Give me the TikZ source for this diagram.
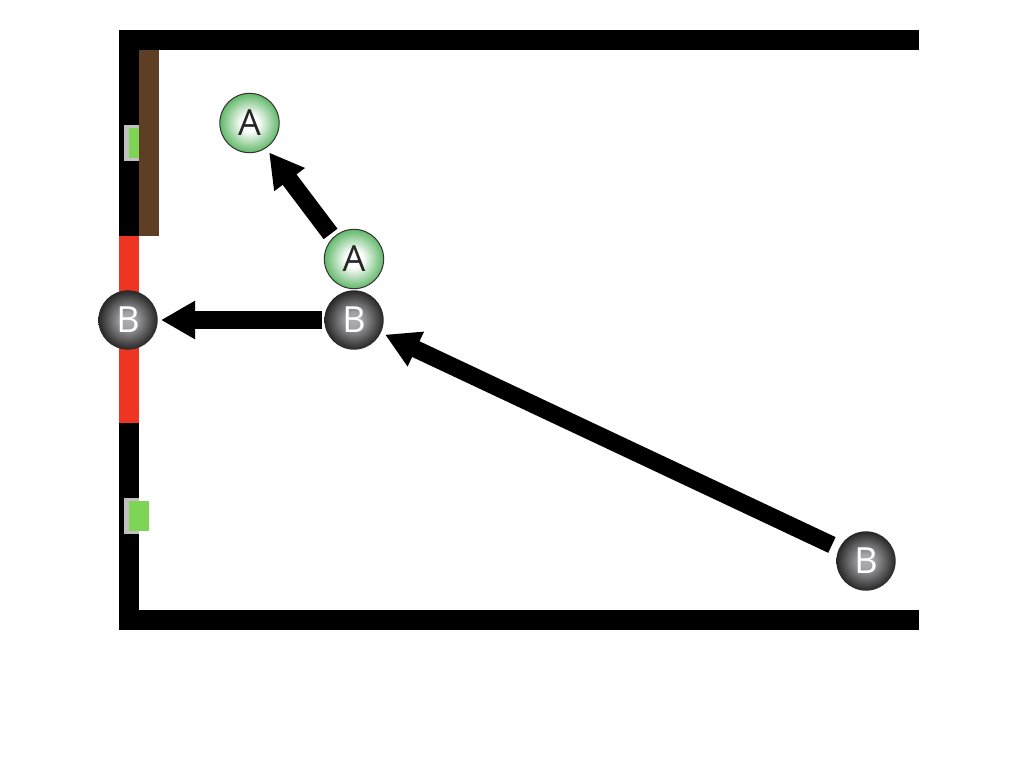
\documentclass[tikz,border=0pt]{standalone}
\usepackage{fontspec}
\setmainfont{Open Sans}
\usetikzlibrary{arrows.meta}
\definecolor{wallred}{HTML}{EE3524}
\definecolor{wallbrown}{HTML}{5E3F24}
\definecolor{doorgreen}{HTML}{7ED454}
\definecolor{doorgray}{HTML}{C0C0C0}
\definecolor{ballgreenout}{HTML}{62B86A}
\definecolor{ballgrayin}{HTML}{AEAEB2}
\definecolor{ballgraymid}{HTML}{A4A4A8}
\definecolor{ballgrayout}{HTML}{262626}
\pgfdeclareradialshading{ballgreen}{\pgfpoint{0bp}{0bp}}{color(0bp)=(white); color(7bp)=(white); color(25bp)=(ballgreenout); color(50bp)=(ballgreenout)}
\pgfdeclareradialshading{ballgray}{\pgfpoint{0bp}{0bp}}{color(0bp)=(ballgrayin); color(6bp)=(ballgraymid); color(25bp)=(ballgrayout); color(50bp)=(ballgrayout)}
\tikzset{
  ball/.style={circle, inner sep=0pt, outer sep=0pt, minimum size=44.5pt, font=\fontsize{27}{27}\selectfont},
  ballA/.style={ball, shading=ballgreen, draw=black!80, line width=0.75pt, text=black!85},
  ballB/.style={ball, shading=ballgray, text=white},
  move/.style={line width=13pt, -{Triangle[length=25.5pt, width=27pt]}},
}
\begin{document}
\begin{tikzpicture}[x=0.75pt, y=-0.75pt]
  \useasboundingbox (0,0) rectangle (1024,768);
  % walls
  \fill[black] (119,30) rectangle (919,50);
  \fill[black] (119,30) rectangle (139,630);
  \fill[black] (119,610) rectangle (919,630);
  \fill[wallred] (119,236) rectangle (139,423);
  \fill[wallbrown] (139,50) rectangle (159,236);
  % doors
  \fill[doorgray] (124,125) rectangle (139,161);
  \fill[doorgreen] (129,128) rectangle (139,158);
  \fill[doorgray] (124,498) rectangle (139,534);
  \fill[doorgreen] (129,501) rectangle (149,531);
  % agents
  \node[ballA] (A1) at (249.5,123) {A};
  \node[ballA] (A2) at (354,259) {A};
  \node[ballB] (B1) at (128,320) {B};
  \node[ballB] (B2) at (354,320) {B};
  \node[ballB] (B3) at (866,561) {B};
  \draw[move, shorten <=3.5pt, shorten >=4.3pt] (A2.134) to (A1.303);
  \draw[move, line width=13.5pt, shorten <=1.5pt, shorten >=2.5pt] (B2) to (B1);
  \draw[move, shorten <=6pt, shorten >=3.5pt] (B3) to (B2);
\end{tikzpicture}
\end{document}
